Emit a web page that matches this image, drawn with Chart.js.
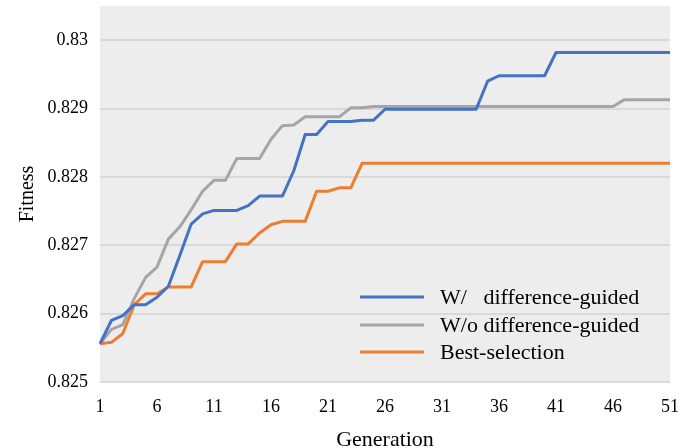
<!DOCTYPE html>
<html>
<head>
<meta charset="utf-8">
<script src="https://cdn.jsdelivr.net/npm/chart.js@4/dist/chart.umd.min.js"></script>
<style>
html,body{margin:0;padding:0;background:#fff;}
#c{display:block;}
</style>
</head>
<body>
<canvas id="c" width="692" height="448"></canvas>
<script>
const generations = Array.from({length: 51}, (_, i) => String(i + 1));
const xTickLabels = ['1','6','11','16','21','26','31','36','41','46','51'];
const yTicks = [0.825, 0.826, 0.827, 0.828, 0.829, 0.83];

const withDG = [
  0.82556, 0.82590, 0.82597, 0.82613, 0.82613, 0.82624, 0.82640, 0.82685, 0.82731, 0.82746,
  0.82751, 0.82751, 0.82751, 0.82758, 0.82772, 0.82772, 0.82772, 0.82809, 0.82862, 0.82862,
  0.82881, 0.82881, 0.82881, 0.82883, 0.82883, 0.82899, 0.82899, 0.82899, 0.82899, 0.82899,
  0.82899, 0.82899, 0.82899, 0.82899, 0.82940, 0.82948, 0.82948, 0.82948, 0.82948, 0.82948,
  0.82982, 0.82982, 0.82982, 0.82982, 0.82982, 0.82982, 0.82982, 0.82982, 0.82982, 0.82982,
  0.82982
];
const withoutDG = [
  0.82556, 0.82577, 0.82584, 0.82622, 0.82653, 0.82668, 0.82709, 0.82727, 0.82752, 0.82779,
  0.82795, 0.82795, 0.82827, 0.82827, 0.82827, 0.82855, 0.82875, 0.82876, 0.82888, 0.82888,
  0.82888, 0.82888, 0.82901, 0.82901, 0.82903, 0.82903, 0.82903, 0.82903, 0.82903, 0.82903,
  0.82903, 0.82903, 0.82903, 0.82903, 0.82903, 0.82903, 0.82903, 0.82903, 0.82903, 0.82903,
  0.82903, 0.82903, 0.82903, 0.82903, 0.82903, 0.82903, 0.82913, 0.82913, 0.82913, 0.82913,
  0.82913
];
const bestSelection = [
  0.82556, 0.82558, 0.82571, 0.82613, 0.82629, 0.82629, 0.82639, 0.82639, 0.82639, 0.82676,
  0.82676, 0.82676, 0.82702, 0.82702, 0.82718, 0.82730, 0.82735, 0.82735, 0.82735, 0.82779,
  0.82779, 0.82784, 0.82784, 0.82820, 0.82820, 0.82820, 0.82820, 0.82820, 0.82820, 0.82820,
  0.82820, 0.82820, 0.82820, 0.82820, 0.82820, 0.82820, 0.82820, 0.82820, 0.82820, 0.82820,
  0.82820, 0.82820, 0.82820, 0.82820, 0.82820, 0.82820, 0.82820, 0.82820, 0.82820, 0.82820,
  0.82820
];
const seriesNames = ['W/   difference-guided', 'W/o difference-guided', 'Best-selection'];
const seriesColors = ['#4472C4', '#A5A5A5', '#ED7D31'];

const FONT = "'Liberation Serif', 'Times New Roman', serif";

const bgPlugin = {
  id: 'plotBg',
  beforeDraw(chart) {
    const {ctx, chartArea: a} = chart;
    ctx.save();
    ctx.fillStyle = '#EDEDED';
    ctx.fillRect(a.left, a.top, a.right - a.left, a.bottom - a.top);
    ctx.restore();
  }
};

const legendPlugin = {
  id: 'innerLegend',
  afterDatasetsDraw(chart) {
    const {ctx, chartArea: a} = chart;
    const rows = [a.bottom - 85, a.bottom - 57, a.bottom - 30];
    ctx.save();
    ctx.font = '22px ' + FONT;
    ctx.textBaseline = 'middle';
    ctx.textAlign = 'left';
    chart.data.datasets.forEach((ds, i) => {
      const y = rows[i];
      ctx.strokeStyle = ds.borderColor;
      ctx.lineWidth = 3;
      ctx.beginPath();
      ctx.moveTo(a.right - 310, y);
      ctx.lineTo(a.right - 246, y);
      ctx.stroke();
      ctx.fillStyle = '#000';
      ctx.fillText(ds.label, a.right - 230, y + 1);
    });
    ctx.restore();
  }
};

new Chart(document.getElementById('c'), {
  type: 'line',
  data: {
    labels: generations,
    datasets: [
      {label: seriesNames[0], data: withDG, borderColor: seriesColors[0], backgroundColor: seriesColors[0]},
      {label: seriesNames[1], data: withoutDG, borderColor: seriesColors[1], backgroundColor: seriesColors[1]},
      {label: seriesNames[2], data: bestSelection, borderColor: seriesColors[2], backgroundColor: seriesColors[2]}
    ]
  },
  options: {
    responsive: false,
    animation: false,
    layout: {padding: {top: 6, right: 22, left: 0, bottom: 0}},
    elements: {
      line: {borderWidth: 3, tension: 0, borderJoinStyle: 'round', borderCapStyle: 'butt'},
      point: {radius: 0, hoverRadius: 0}
    },
    plugins: {legend: {display: false}, tooltip: {enabled: false}},
    scales: {
      x: {
        type: 'category',
        offset: false,
        grid: {display: false, drawTicks: false},
        border: {display: false},
        ticks: {
          autoSkip: false,
          maxRotation: 0,
          padding: 14,
          color: '#000',
          font: {family: FONT, size: 18},
          callback(v, i) {
            const lab = this.getLabelForValue(v);
            return xTickLabels.includes(lab) ? lab : '';
          }
        },
        title: {display: true, text: 'Generation', color: '#000', font: {family: FONT, size: 22}, padding: {top: 0, bottom: -5}},
        afterFit(s) { s.height = 66; s.paddingLeft = 0; s.paddingRight = 0; }
      },
      y: {
        min: 0.825,
        max: 0.8305,
        grid: {color: '#D9D9D9', lineWidth: 2, drawTicks: false},
        border: {display: false},
        afterBuildTicks(s) { s.ticks = yTicks.map(v => ({value: v})); },
        ticks: {
          padding: 12,
          color: '#000',
          font: {family: FONT, size: 18},
          callback(v) { return String(Number(v.toFixed(3))); }
        },
        title: {display: true, text: 'Fitness', color: '#000', font: {family: FONT, size: 20}, padding: {top: 16, bottom: 0}},
        afterFit(s) { s.width = 100; s.paddingTop = 0; s.paddingBottom = 0; }
      }
    }
  },
  plugins: [bgPlugin, legendPlugin]
});
</script>
</body>
</html>
